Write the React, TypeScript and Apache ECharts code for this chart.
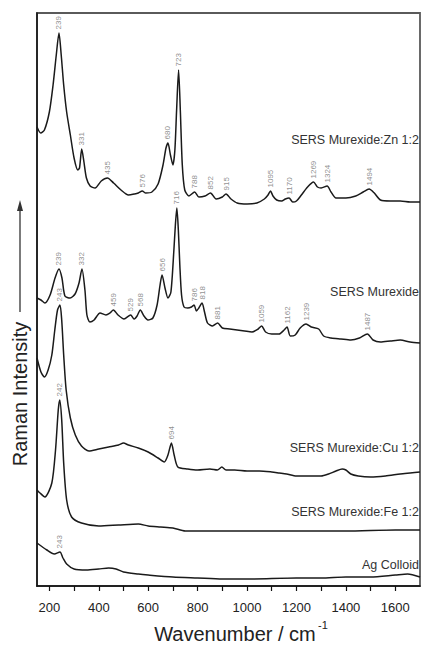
import React, { useEffect, useRef } from 'react';
import * as echarts from 'echarts';

// Wavenumber axis ticks (cm^-1)
const xTickLabels = [200, 400, 600, 800, 1000, 1200, 1400, 1600];
const xTickMarks = [200, 300, 400, 500, 600, 700, 800, 900, 1000, 1100, 1200, 1300, 1400, 1500, 1600];

// Spectra: [wavenumber, intensity (a.u., stacked offsets included)]
const znSpectrum: [number, number][] = [
  [150, 459], [165, 453], [180, 456], [200, 474], [215, 501], [228, 531], [239, 553], [248, 531],
  [258, 501], [270, 474], [285, 451], [300, 428], [315, 416], [322, 418], [331, 437], [340, 424],
  [350, 408], [365, 400], [385, 398], [410, 405], [435, 408], [460, 403], [490, 396], [520, 391],
  [545, 392], [560, 393], [576, 395], [590, 393], [615, 394], [640, 402], [660, 421], [672, 438],
  [680, 443], [690, 431], [700, 421], [708, 436], [715, 476], [723, 516], [730, 476], [738, 421],
  [748, 396], [765, 390], [788, 394], [805, 389], [830, 390], [852, 393], [875, 387], [900, 389],
  [915, 392], [935, 387], [960, 383], [1000, 382], [1040, 383], [1070, 387], [1085, 391], [1095, 395],
  [1105, 390], [1120, 386], [1140, 385], [1155, 387], [1170, 388], [1185, 384], [1200, 385], [1220, 391],
  [1245, 399], [1269, 404], [1285, 399], [1300, 398], [1324, 400], [1340, 394], [1360, 388], [1400, 388],
  [1440, 390], [1470, 394], [1494, 397], [1515, 393], [1540, 386], [1580, 385], [1620, 385], [1660, 384],
  [1700, 384],
];
const murexideSpectrum: [number, number][] = [
  [150, 288], [166, 286], [182, 283], [203, 291], [223, 308], [239, 317], [251, 308], [263, 290],
  [284, 288], [304, 292], [320, 303], [332, 317], [344, 296], [352, 271], [364, 264], [381, 266],
  [405, 273], [429, 271], [445, 273], [459, 276], [478, 271], [502, 267], [529, 271], [543, 267],
  [555, 270], [568, 276], [583, 270], [599, 266], [619, 268], [636, 281], [648, 301], [656, 311],
  [668, 298], [680, 288], [692, 294], [704, 336], [710, 361], [716, 378], [722, 356], [728, 321],
  [735, 291], [745, 279], [760, 278], [775, 279], [786, 281], [795, 275], [805, 278], [818, 283],
  [828, 274], [840, 263], [860, 260], [881, 263], [900, 258], [930, 257], [960, 256], [990, 255],
  [1020, 254], [1045, 257], [1059, 260], [1075, 254], [1100, 252], [1130, 252], [1150, 256], [1162, 259],
  [1175, 250], [1195, 251], [1215, 258], [1239, 262], [1260, 259], [1290, 257], [1310, 250], [1340, 248],
  [1380, 247], [1420, 246], [1455, 248], [1487, 252], [1510, 246], [1540, 244], [1580, 245], [1620, 246],
  [1660, 244], [1700, 243],
];
const cuSpectrum: [number, number][] = [
  [150, 228], [166, 214], [180, 209], [195, 216], [210, 231], [222, 256], [233, 276], [243, 281],
  [250, 266], [258, 231], [268, 196], [285, 168], [305, 151], [330, 140], [360, 135], [400, 137],
  [440, 139], [480, 141], [500, 143], [520, 141], [560, 138], [600, 134], [640, 128], [665, 124],
  [680, 131], [694, 143], [705, 131], [720, 119], [760, 117], [800, 116], [850, 117], [880, 116],
  [898, 119], [915, 116], [950, 116], [1000, 115], [1050, 115], [1100, 114], [1130, 113], [1160, 112],
  [1200, 110], [1250, 110], [1300, 110], [1330, 112], [1360, 115], [1385, 117], [1400, 116], [1420, 112],
  [1450, 110], [1500, 109], [1560, 110], [1620, 112], [1660, 113], [1700, 114],
];
const feSpectrum: [number, number][] = [
  [150, 96], [162, 93], [182, 89], [210, 103], [225, 136], [236, 176], [242, 186], [250, 166],
  [258, 123], [270, 86], [290, 69], [330, 63], [400, 60], [480, 61], [560, 62], [600, 60],
  [650, 59], [700, 58], [750, 55], [800, 55], [1000, 55], [1200, 55], [1400, 55], [1600, 56],
  [1700, 56],
];
const agSpectrum: [number, number][] = [
  [150, 43], [190, 36], [220, 32], [243, 34], [255, 28], [270, 22], [300, 17], [350, 16],
  [400, 17], [440, 18], [470, 17], [500, 14], [560, 12], [600, 11], [700, 9], [800, 8],
  [900, 7], [1000, 7], [1200, 8], [1300, 8], [1400, 9], [1500, 9], [1600, 11], [1650, 12],
  [1700, 9],
];

// Labelled peak positions (cm^-1)
const znPeaks = [239, 331, 435, 576, 680, 723, 788, 852, 915, 1095, 1170, 1269, 1324, 1494];
const murexidePeaks = [239, 332, 459, 529, 568, 656, 716, 786, 818, 881, 1059, 1162, 1239, 1487];
const cuPeaks = [243, 694];
const fePeaks = [242];
const agPeaks = [243];

const traceNames = ['SERS Murexide:Zn 1:2', 'SERS Murexide', 'SERS Murexide:Cu 1:2', 'SERS Murexide:Fe 1:2', 'Ag Colloid'];

const FONT = '"Liberation Sans", Arial, Helvetica, sans-serif';

function valueAt(data: [number, number][], wn: number): number {
  let best = data[0];
  for (const d of data) {
    if (Math.abs(d[0] - wn) < Math.abs(best[0] - wn)) best = d;
  }
  return best[1];
}

export default function App() {
  const ref = useRef<HTMLDivElement>(null);

  useEffect(() => {
    if (!ref.current) return;
    const chart = echarts.init(ref.current, undefined, { renderer: 'svg' });

    const traces = [
      { name: traceNames[0], data: znSpectrum, peaks: znPeaks, labelY: 140 },
      { name: traceNames[1], data: murexideSpectrum, peaks: murexidePeaks, labelY: 292 },
      { name: traceNames[2], data: cuSpectrum, peaks: cuPeaks, labelY: 448 },
      { name: traceNames[3], data: feSpectrum, peaks: fePeaks, labelY: 512 },
      { name: traceNames[4], data: agSpectrum, peaks: agPeaks, labelY: 565 },
    ];

    const lineSeries = traces.map((t) => ({
      type: 'line',
      name: t.name,
      data: t.data,
      showSymbol: false,
      smooth: 0.25,
      lineStyle: { color: '#1a1a1a', width: 1.5 },
      silent: true,
      z: 2,
    }));

    const peakSeries = traces.map((t) => ({
      type: 'scatter',
      name: t.name + ' peaks',
      data: t.peaks.map((p) => [p, valueAt(t.data, p)]),
      symbol: 'circle',
      symbolSize: 1,
      itemStyle: { color: 'rgba(0,0,0,0)' },
      silent: true,
      z: 3,
      label: {
        show: true,
        position: 'top',
        distance: 3,
        rotate: 90,
        align: 'left',
        verticalAlign: 'middle',
        fontSize: 8,
        fontFamily: FONT,
        color: '#707070',
        formatter: (p: any) => String(p.value[0]),
      },
    }));

    const nameTexts = traces.map((t) => ({
      type: 'text',
      x: 419,
      y: t.labelY,
      style: {
        text: t.name,
        font: `12.5px ${FONT}`,
        fill: '#333',
        textAlign: 'right',
        textVerticalAlign: 'middle',
        align: 'right',
        verticalAlign: 'middle',
      },
      z: 10,
    }));

    chart.setOption({
      animation: false,
      backgroundColor: '#ffffff',
      grid: {
        left: 37,
        right: 2,
        top: 13,
        bottom: 59,
        show: true,
        borderColor: '#5a5a5a',
        borderWidth: 1.8,
        backgroundColor: 'transparent',
      },
      xAxis: {
        type: 'value',
        min: 150,
        max: 1700,
        axisLine: { show: true, onZero: false, lineStyle: { color: '#111', width: 1.5 } },
        axisTick: { show: true, customValues: xTickMarks, length: 5, lineStyle: { color: '#111', width: 1.2 } },
        axisLabel: {
          customValues: xTickLabels,
          margin: 15,
          fontSize: 13,
          color: '#222',
          fontFamily: FONT,
          formatter: (v: number) => String(v),
        },
        splitLine: { show: false },
      },
      yAxis: {
        type: 'value',
        min: 0,
        max: 573,
        axisLine: { show: true, lineStyle: { color: '#111', width: 1.5 } },
        axisTick: { show: false },
        axisLabel: { show: false },
        splitLine: { show: false },
      },
      series: [...lineSeries, ...peakSeries],
      graphic: [
        ...nameTexts,
        {
          type: 'text',
          x: 235,
          y: 634,
          style: {
            text: 'Wavenumber / cm',
            font: `20px ${FONT}`,
            fill: '#222',
            textAlign: 'center',
            textVerticalAlign: 'middle',
            align: 'center',
            verticalAlign: 'middle',
          },
        },
        {
          type: 'text',
          x: 318,
          y: 625,
          style: {
            text: '-1',
            font: `11px ${FONT}`,
            fill: '#222',
            textAlign: 'left',
            textVerticalAlign: 'middle',
            align: 'left',
            verticalAlign: 'middle',
          },
        },
        {
          type: 'text',
          x: 20,
          y: 394,
          rotation: Math.PI / 2,
          style: {
            text: 'Raman Intensity',
            font: `20px ${FONT}`,
            fill: '#222',
            textAlign: 'center',
            textVerticalAlign: 'middle',
            align: 'center',
            verticalAlign: 'middle',
          },
        },
        {
          type: 'line',
          shape: { x1: 20, y1: 312, x2: 20, y2: 209 },
          style: { stroke: '#333', lineWidth: 1.3 },
        },
        {
          type: 'polygon',
          shape: { points: [[17, 211], [23, 211], [20, 200]] },
          style: { fill: '#333' },
        },
      ],
    });

    return () => chart.dispose();
  }, []);

  return (
    <div
      ref={ref}
      style={{ position: 'fixed', left: 0, top: 0, width: 422, height: 645, background: '#fff' }}
    />
  );
}
